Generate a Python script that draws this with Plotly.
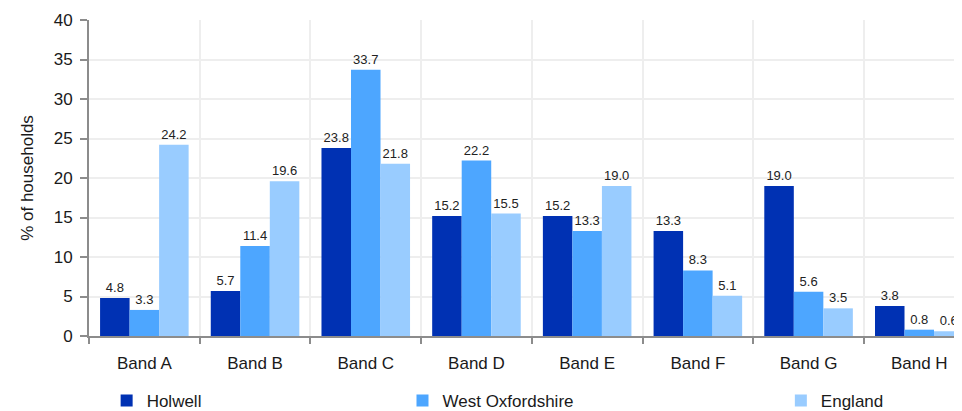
import plotly.graph_objects as go

# Datos del gráfico
bandas = ['Band A', 'Band B', 'Band C', 'Band D', 'Band E', 'Band F', 'Band G', 'Band H']
holwell = [4.8, 5.7, 23.8, 15.2, 15.2, 13.3, 19.0, 3.8]
west_oxfordshire = [3.3, 11.4, 33.7, 22.2, 13.3, 8.3, 5.6, 0.8]
england = [24.2, 19.6, 21.8, 15.5, 19.0, 5.1, 3.5, 0.6]
y_ticks = [0, 5, 10, 15, 20, 25, 30, 35, 40]

series = [
    ('Holwell', holwell, '#0031B3', 'legend'),
    ('West Oxfordshire', west_oxfordshire, '#4DA6FF', 'legend2'),
    ('England', england, '#99CCFF', 'legend3'),
]

fig = go.Figure()
for nombre, valores, color, leyenda in series:
    fig.add_trace(go.Bar(
        x=bandas, y=valores, name=nombre,
        marker=dict(color=color, line=dict(width=0)),
        text=[f'{v:.1f}' for v in valores],
        textposition='outside',
        textfont=dict(size=13, color='#222222'),
        cliponaxis=False,
        legend=leyenda, showlegend=True,
    ))

font_base = dict(family='Liberation Sans, Arial, sans-serif', color='#1a1a1a')
legend_comun = dict(orientation='h', yanchor='middle', y=-0.205, xanchor='left',
                    font=dict(size=17, **font_base), bgcolor='rgba(0,0,0,0)',
                    borderwidth=0, visible=True)

# la página añade 8 px de margen al cuerpo: se compensa en los márgenes
fig.update_layout(
    width=954, height=411,
    margin=dict(l=81, r=0, t=12, b=82),
    paper_bgcolor='white', plot_bgcolor='white',
    font=font_base,
    showlegend=True,
    barmode='group', bargap=0.2, bargroupgap=0,
    legend=dict(x=0.0202, **legend_comun),
    legend2=dict(x=0.3591, **legend_comun),
    legend3=dict(x=0.7925, **legend_comun),
    xaxis=dict(
        range=[-0.5, 7.386], tickson='boundaries', automargin=False,
        showgrid=True, gridcolor='#eeeeee', gridwidth=2,
        showline=True, linecolor='#8c8c8c', linewidth=2,
        ticks='outside', ticklen=6, tickcolor='#8c8c8c', tickwidth=2,
        tickfont=dict(size=17), ticklabelstandoff=11,
    ),
    yaxis=dict(
        range=[0, 40], tickvals=y_ticks, automargin=False,
        showgrid=True, gridcolor='#eeeeee', gridwidth=2,
        showline=True, linecolor='#8c8c8c', linewidth=2,
        ticks='outside', ticklen=7, tickcolor='#8c8c8c', tickwidth=2,
        tickfont=dict(size=17), zeroline=False, ticklabelstandoff=4,
        title=dict(text='% of households', font=dict(size=17), standoff=16),
    ),
)

fig.write_html('out.html')
